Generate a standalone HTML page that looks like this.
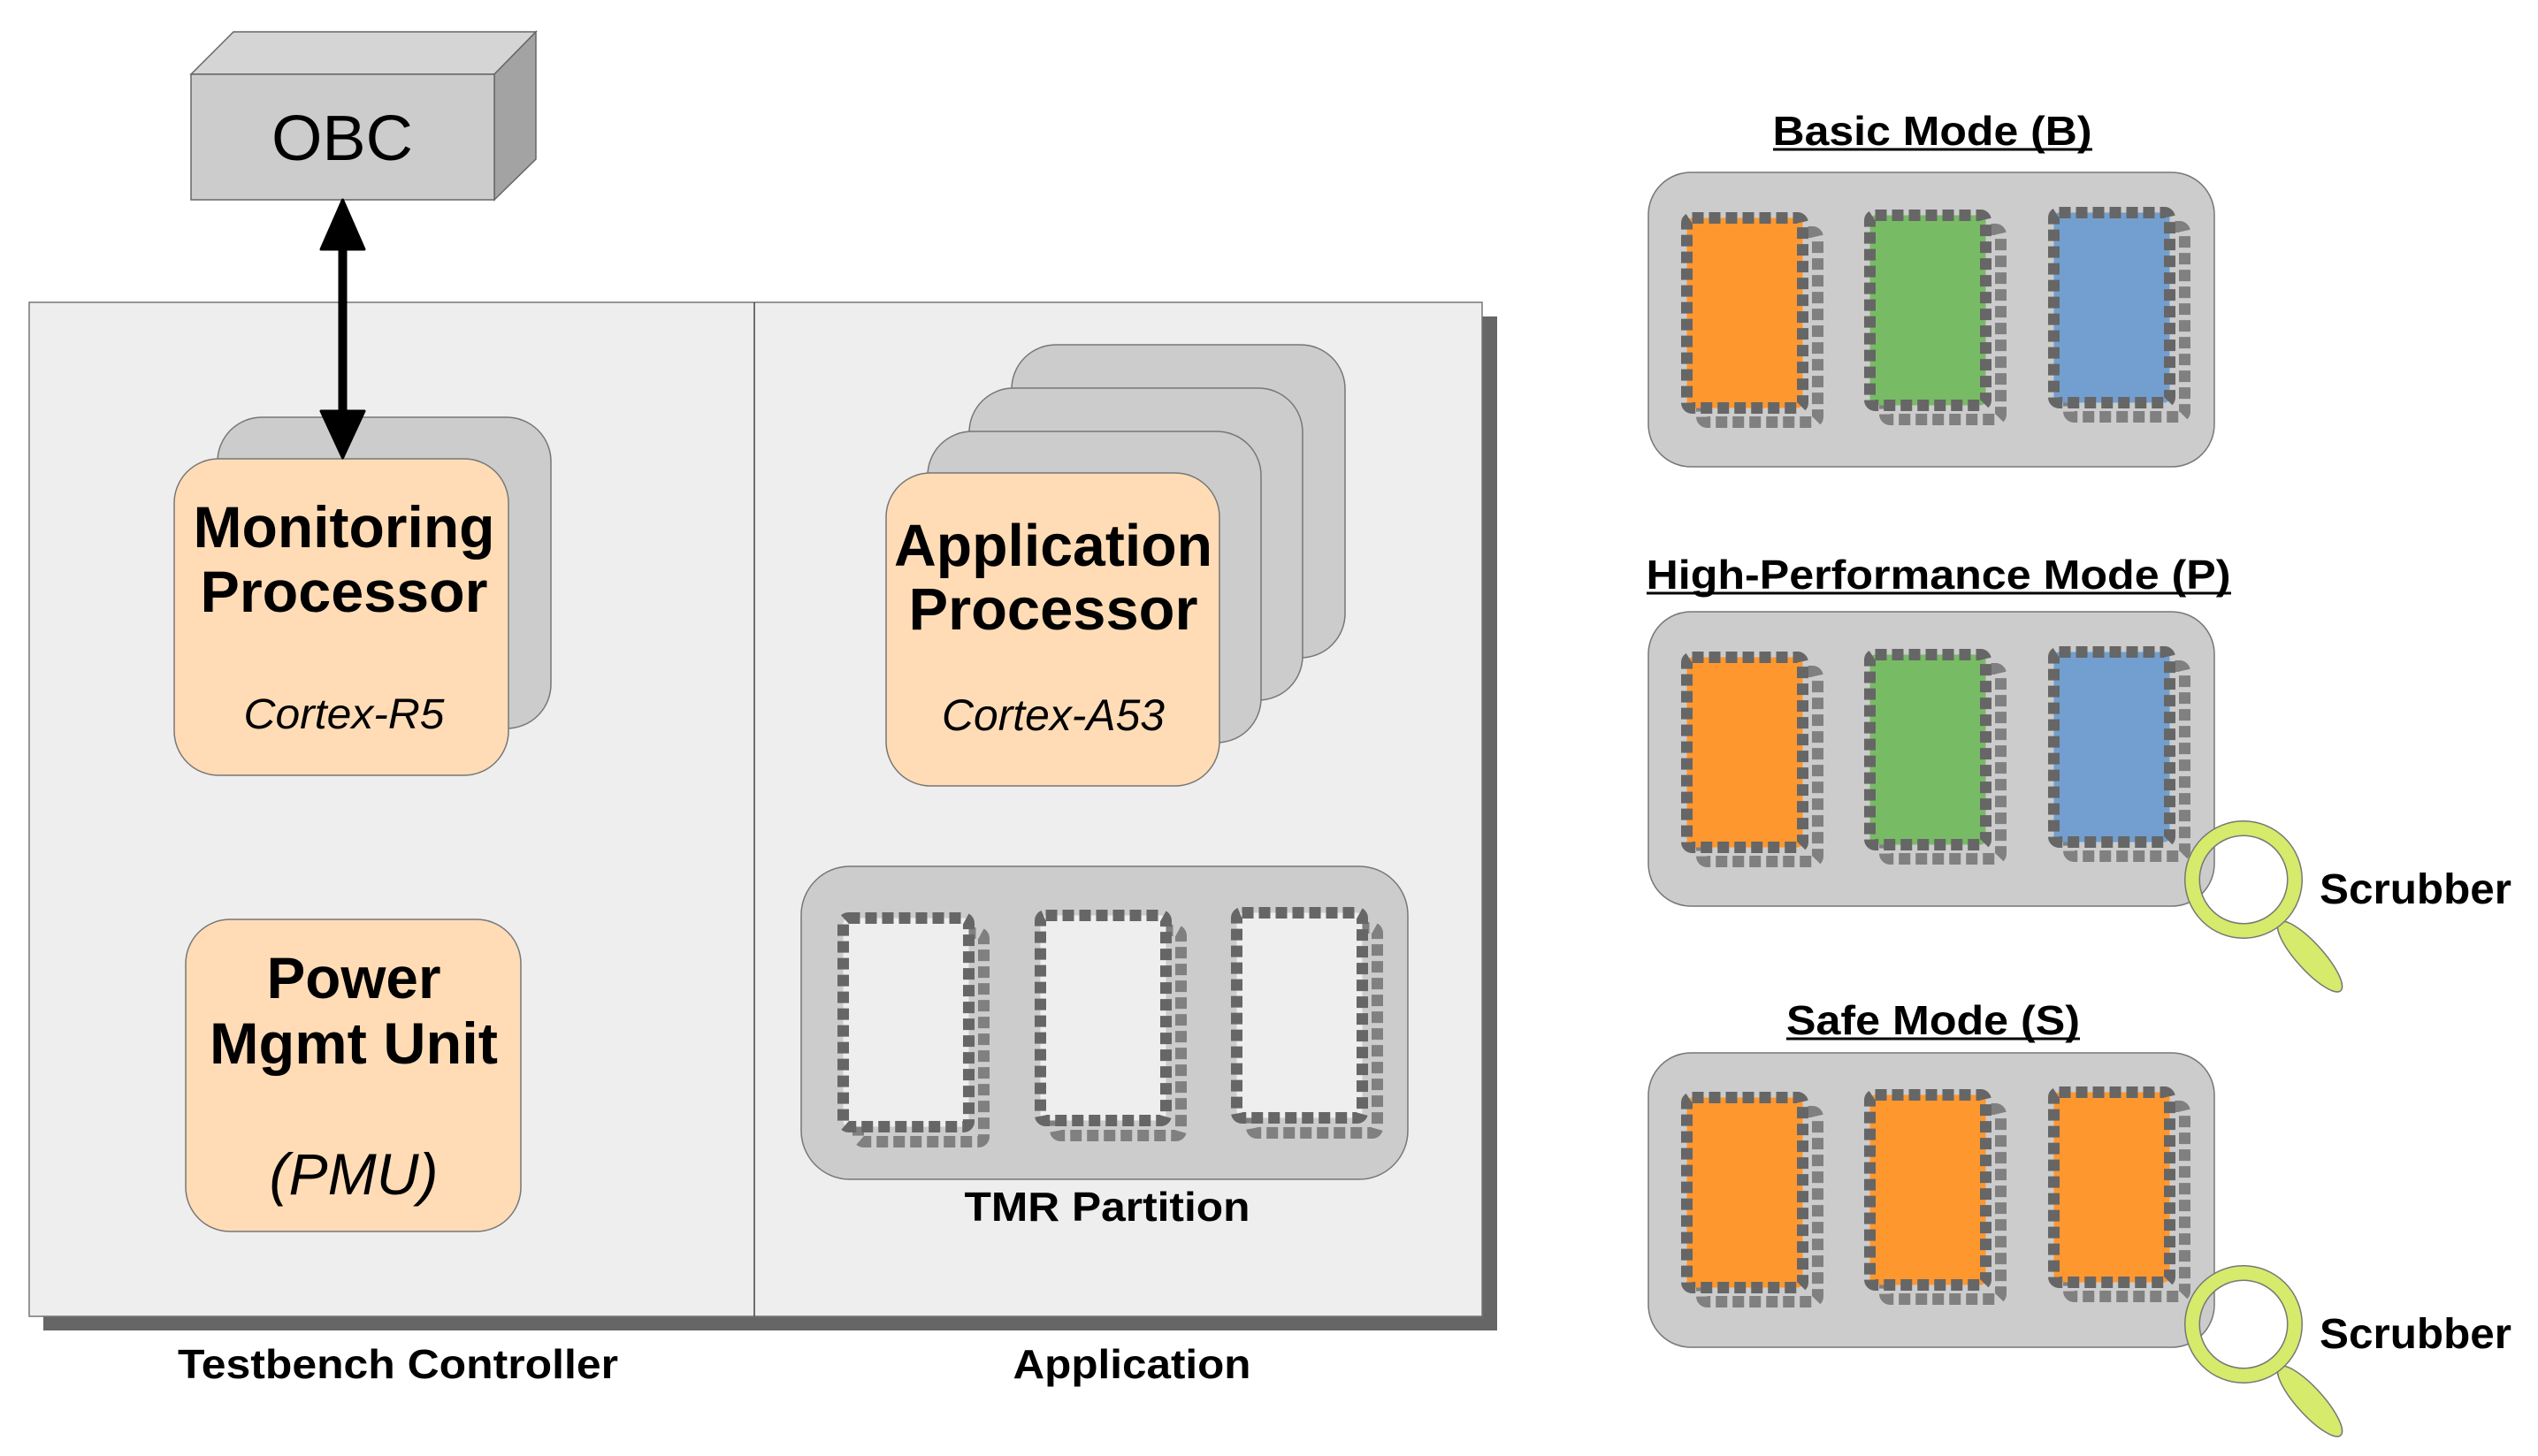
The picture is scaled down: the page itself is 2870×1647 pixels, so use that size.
<!DOCTYPE html>
<html><head><meta charset="utf-8"><style>html,body{margin:0;padding:0;background:#fff}svg{display:block}</style></head>
<body>
<svg xmlns="http://www.w3.org/2000/svg" width="2870" height="1647" viewBox="0 0 2870 1647" font-family="Liberation Sans, sans-serif">
<!-- OBC -->
<polygon points="216,84 264,36 606,36 559,84" fill="#d5d5d5" stroke="#666" stroke-width="1.5"/>
<polygon points="559,84 606,36 606,180 559,226" fill="#a3a3a3" stroke="#666" stroke-width="1.5"/>
<rect x="216" y="84" width="343" height="142" fill="#cccccc" stroke="#666" stroke-width="1.5"/>
<text x="387" y="181" font-size="72" text-anchor="middle" textLength="160" lengthAdjust="spacingAndGlyphs">OBC</text>

<!-- main panel -->
<rect x="49" y="358" width="1644" height="1147" fill="#666"/>
<rect x="33" y="342" width="1643" height="1147" fill="#eeeeee" stroke="#777" stroke-width="1.5"/>
<line x1="853" y1="342" x2="853" y2="1489" stroke="#444" stroke-width="1.5"/>

<!-- Monitoring processor -->
<rect x="246" y="472" width="377" height="352" rx="50" fill="#cccccc" stroke="#777" stroke-width="1.5"/>
<rect x="197" y="519" width="378" height="358" rx="50" fill="#ffdcb6" stroke="#777" stroke-width="1.5"/>
<text x="389" y="619" font-size="66" font-weight="bold" text-anchor="middle" textLength="341" lengthAdjust="spacingAndGlyphs">Monitoring</text>
<text x="389" y="692" font-size="66" font-weight="bold" text-anchor="middle" textLength="325" lengthAdjust="spacingAndGlyphs">Processor</text>
<text x="389" y="824" font-size="48" font-style="italic" text-anchor="middle" textLength="227" lengthAdjust="spacingAndGlyphs">Cortex-R5</text>

<!-- arrow -->
<line x1="387.5" y1="275" x2="387.5" y2="470" stroke="#000" stroke-width="10"/>
<polygon points="387.5,226 412,282 363,282" fill="#000" stroke="#000" stroke-width="3" stroke-linejoin="round"/>
<polygon points="387.5,518 412,465 363,465" fill="#000" stroke="#000" stroke-width="3" stroke-linejoin="round"/>

<!-- PMU -->
<rect x="210" y="1040" width="379" height="353" rx="50" fill="#ffdcb6" stroke="#777" stroke-width="1.5"/>
<text x="400" y="1129" font-size="66" font-weight="bold" text-anchor="middle" textLength="197" lengthAdjust="spacingAndGlyphs">Power</text>
<text x="400" y="1203" font-size="66" font-weight="bold" text-anchor="middle" textLength="326" lengthAdjust="spacingAndGlyphs">Mgmt Unit</text>
<text x="400" y="1351" font-size="66" font-style="italic" text-anchor="middle" textLength="191" lengthAdjust="spacingAndGlyphs">(PMU)</text>

<!-- Application processor stack -->
<rect x="1144" y="390" width="377" height="354" rx="50" fill="#cccccc" stroke="#777" stroke-width="1.5"/>
<rect x="1096" y="439" width="377" height="353" rx="50" fill="#cccccc" stroke="#777" stroke-width="1.5"/>
<rect x="1049" y="488" width="377" height="352" rx="50" fill="#cccccc" stroke="#777" stroke-width="1.5"/>
<rect x="1002" y="535" width="377" height="354" rx="50" fill="#ffdcb6" stroke="#777" stroke-width="1.5"/>
<text x="1191" y="640" font-size="67" font-weight="bold" text-anchor="middle" textLength="360" lengthAdjust="spacingAndGlyphs">Application</text>
<text x="1191" y="712" font-size="67" font-weight="bold" text-anchor="middle" textLength="327" lengthAdjust="spacingAndGlyphs">Processor</text>
<text x="1191" y="826" font-size="50" font-style="italic" text-anchor="middle" textLength="252" lengthAdjust="spacingAndGlyphs">Cortex-A53</text>

<!-- TMR -->
<rect x="906" y="980" width="686" height="354" rx="55" fill="#cccccc" stroke="#777" stroke-width="1.5"/>
<g fill="#eeeeee" stroke-width="13" stroke-dasharray="13 6">
 <rect x="970.5" y="1055.5" width="142" height="236" rx="6" fill="none" stroke="#808080"/>
 <rect x="953.5" y="1038.5" width="142" height="236" rx="6" stroke="#666"/>
 <rect x="1193.5" y="1052.5" width="142" height="232" rx="6" fill="none" stroke="#808080"/>
 <rect x="1176.5" y="1035.5" width="142" height="232" rx="6" stroke="#666"/>
 <rect x="1415.5" y="1049.5" width="142" height="232" rx="6" fill="none" stroke="#808080"/>
 <rect x="1398.5" y="1032.5" width="142" height="232" rx="6" stroke="#666"/>
</g>
<text x="1252" y="1381" font-size="46" font-weight="bold" text-anchor="middle" textLength="323" lengthAdjust="spacingAndGlyphs">TMR Partition</text>

<text x="450" y="1559" font-size="46" font-weight="bold" text-anchor="middle" textLength="498" lengthAdjust="spacingAndGlyphs">Testbench Controller</text>
<text x="1280" y="1559" font-size="46" font-weight="bold" text-anchor="middle" textLength="269" lengthAdjust="spacingAndGlyphs">Application</text>

<!-- Right side modes -->
<g font-weight="bold" font-size="46" text-anchor="middle">
 <text x="2185" y="164" textLength="361" lengthAdjust="spacingAndGlyphs">Basic Mode (B)</text>
 <text x="2192" y="666" textLength="661" lengthAdjust="spacingAndGlyphs">High-Performance Mode (P)</text>
 <text x="2186" y="1170" textLength="332" lengthAdjust="spacingAndGlyphs">Safe Mode (S)</text>
</g>
<line x1="2005" y1="169" x2="2366" y2="169" stroke="#000" stroke-width="3"/>
<line x1="1862" y1="671" x2="2523" y2="671" stroke="#000" stroke-width="3"/>
<line x1="2020" y1="1175" x2="2352" y2="1175" stroke="#000" stroke-width="3"/>

<g stroke="#777" stroke-width="1.5" fill="#cccccc">
 <rect x="1864" y="195" width="640" height="333" rx="48"/>
 <rect x="1864" y="692" width="640" height="333" rx="48"/>
 <rect x="1864" y="1191" width="640" height="333" rx="48"/>
</g>

<g stroke-width="13" stroke-dasharray="13 6">
 <rect x="1924.5" y="262.5" width="131" height="215" rx="6" fill="none" stroke="#808080"/>
 <rect x="1907.5" y="246.5" width="131" height="215" rx="6" fill="#ff972f" stroke="#666"/>
 <rect x="2131.5" y="259.5" width="131" height="215" rx="6" fill="none" stroke="#808080"/>
 <rect x="2114.5" y="243.5" width="131" height="215" rx="6" fill="#77bb65" stroke="#666"/>
 <rect x="2339.5" y="256.5" width="131" height="215" rx="6" fill="none" stroke="#808080"/>
 <rect x="2322.5" y="240.5" width="131" height="215" rx="6" fill="#729fcf" stroke="#666"/>
 <g transform="translate(0,-3)">
 <rect x="1924.5" y="762.5" width="131" height="215" rx="6" fill="none" stroke="#808080"/>
 <rect x="1907.5" y="746.5" width="131" height="215" rx="6" fill="#ff972f" stroke="#666"/>
 <rect x="2131.5" y="759.5" width="131" height="215" rx="6" fill="none" stroke="#808080"/>
 <rect x="2114.5" y="743.5" width="131" height="215" rx="6" fill="#77bb65" stroke="#666"/>
 <rect x="2339.5" y="756.5" width="131" height="215" rx="6" fill="none" stroke="#808080"/>
 <rect x="2322.5" y="740.5" width="131" height="215" rx="6" fill="#729fcf" stroke="#666"/>
 </g>
 <g transform="translate(0,-5)">
 <rect x="1924.5" y="1262.5" width="131" height="215" rx="6" fill="none" stroke="#808080"/>
 <rect x="1907.5" y="1246.5" width="131" height="215" rx="6" fill="#ff972f" stroke="#666"/>
 <rect x="2131.5" y="1259.5" width="131" height="215" rx="6" fill="none" stroke="#808080"/>
 <rect x="2114.5" y="1243.5" width="131" height="215" rx="6" fill="#ff972f" stroke="#666"/>
 <rect x="2339.5" y="1256.5" width="131" height="215" rx="6" fill="none" stroke="#808080"/>
 <rect x="2322.5" y="1240.5" width="131" height="215" rx="6" fill="#ff972f" stroke="#666"/>
 </g>
</g>

<!-- magnifiers -->
<g>
 <ellipse cx="2612" cy="1082" rx="52" ry="15" transform="rotate(48 2612 1082)" fill="#d6ea6b" stroke="#777" stroke-width="1.5"/>
 <circle cx="2537" cy="995" r="58" fill="none" stroke="#777" stroke-width="18"/>
 <circle cx="2537" cy="995" r="58" fill="none" stroke="#d6ea6b" stroke-width="15"/>
 <text x="2623" y="1022" font-size="48" font-weight="bold" textLength="217" lengthAdjust="spacingAndGlyphs">Scrubber</text>
</g>
<g transform="translate(0,503)">
 <ellipse cx="2612" cy="1082" rx="52" ry="15" transform="rotate(48 2612 1082)" fill="#d6ea6b" stroke="#777" stroke-width="1.5"/>
 <circle cx="2537" cy="995" r="58" fill="none" stroke="#777" stroke-width="18"/>
 <circle cx="2537" cy="995" r="58" fill="none" stroke="#d6ea6b" stroke-width="15"/>
 <text x="2623" y="1022" font-size="48" font-weight="bold" textLength="217" lengthAdjust="spacingAndGlyphs">Scrubber</text>
</g>
</svg>
</body></html>
